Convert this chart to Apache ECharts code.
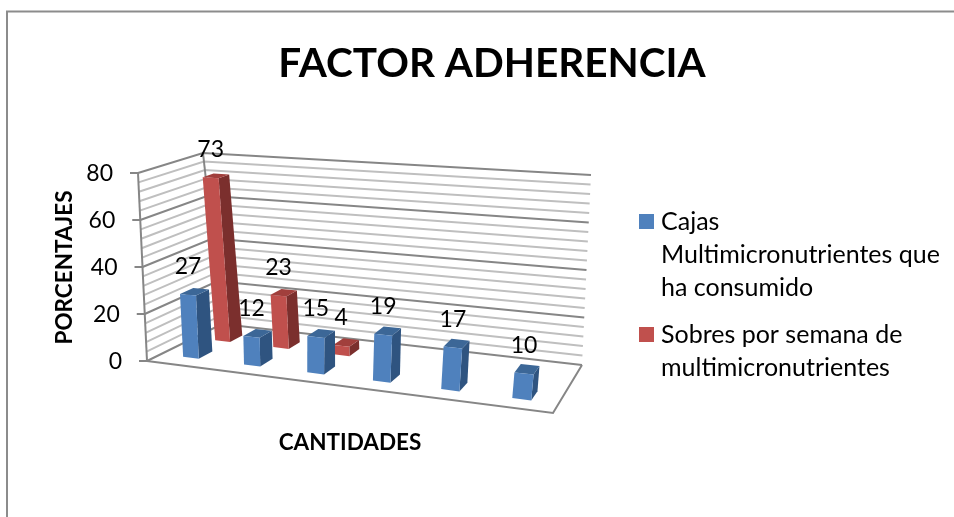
<!DOCTYPE html>
<html>
<head>
<meta charset="utf-8">
<style>
  html, body { margin: 0; padding: 0; background: #fff; }
  #chart { width: 954px; height: 517px; }
</style>
<script src="https://cdn.jsdelivr.net/npm/echarts@6/dist/echarts.min.js"></script>
</head>
<body>
<div id="chart"></div>
<script>
const categories = ['1', '2', '3', '4', '5', '6']
const cajas = [27, 12, 15, 19, 17, 10]
const sobres = [73, 23, 4, null, null, null]
const gridValues = [0, 4, 8, 12, 16, 20, 24, 28, 32, 36, 40, 44, 48, 52, 56, 60, 64, 68, 72, 76, 80]
const tickLabels = [0, 20, 40, 60, 80]

const FONT = 'Lato, "Open Sans", sans-serif'
const GRID = { left: 130, top: 174, width: 440, height: 187 }

// corners of the floor and of the plane at the axis max: front-left, front-right, back-right, back-left
const bottomH = quad([[147, 361], [553, 413], [582, 365], [222, 324]])
const topH = quad([[138, 173], [577, 201], [591, 175], [203, 153]])

function quad(p) {
  const [[x0, y0], [x1, y1], [x2, y2], [x3, y3]] = p
  const sx = x0 - x1 + x2 - x3
  const sy = y0 - y1 + y2 - y3
  const dx1 = x1 - x2, dx2 = x3 - x2, dy1 = y1 - y2, dy2 = y3 - y2
  const den = dx1 * dy2 - dx2 * dy1
  const g = (sx * dy2 - dx2 * sy) / den
  const h = (dx1 * sy - sx * dy1) / den
  return [x1 - x0 + g * x1, x3 - x0 + h * x3, x0, y1 - y0 + g * y1, y3 - y0 + h * y3, y0, g, h]
}

function apply(m, u, z) {
  const w = m[6] * u + m[7] * z + 1
  return [(m[0] * u + m[1] * z + m[2]) / w, (m[3] * u + m[4] * z + m[5]) / w]
}

// px, py are pixels of the flat hidden grid, z is depth (0 front, 1 back)
function project(px, py, z) {
  const u = (px - GRID.left) / GRID.width
  const t = (GRID.top + GRID.height - py) / GRID.height
  const a = apply(bottomH, u, z)
  const b = apply(topH, u, z)
  return [a[0] + (b[0] - a[0]) * t, a[1] + (b[1] - a[1]) * t]
}

function line(points, color, width) {
  return {
    type: 'polyline',
    shape: { points },
    style: { stroke: color, lineWidth: width, fill: null }
  }
}

function renderGridLine(params, api) {
  const v = api.value(1)
  const py = api.coord([0, v])[1]
  const x0 = GRID.left
  const x1 = GRID.left + GRID.width
  const major = tickLabels.indexOf(v) >= 0
  const color = major ? '#868686' : '#bfbfbf'
  const front = project(x0, py, 0)
  const children = [
    line([front, project(x0, py, 1), project(x1, py, 1)], color, 2)
  ]
  if (major) {
    children.push(line([[front[0] - 8, front[1]], front], '#868686', 2))
    children.push({
      type: 'text',
      style: {
        text: String(v),
        x: front[0] - 25,
        y: front[1] + 1,
        fill: '#000',
        font: '23px ' + FONT,
        align: 'right',
        verticalAlign: 'middle'
      }
    })
  }
  return { type: 'group', children }
}

function renderFrame(params, api) {
  const y0 = api.coord([0, 0])[1]
  const y1 = api.coord([0, 80])[1]
  const x0 = GRID.left
  const x1 = GRID.left + GRID.width
  return {
    type: 'group',
    children: [
      line([project(x0, y0, 0), project(x0, y1, 0)], '#868686', 2),
      line([project(x0, y0, 1), project(x0, y1, 1)], '#868686', 2),
      line([project(x0, y0, 0), project(x1, y0, 0), project(x1, y0, 1)], '#868686', 2)
    ]
  }
}

function barRenderer(zFront, zBack, colors) {
  return function (params, api) {
    const v = api.value(1)
    if (isNaN(v)) return null
    const base = api.coord([api.value(0), 0])
    const top = api.coord([api.value(0), v])
    const half = api.size([1, 0])[0] * 0.13
    const l = base[0] - half
    const r = base[0] + half
    const flb = project(l, base[1], zFront)
    const frb = project(r, base[1], zFront)
    const brb = project(r, base[1], zBack)
    const flt = project(l, top[1], zFront)
    const frt = project(r, top[1], zFront)
    const brt = project(r, top[1], zBack)
    const blt = project(l, top[1], zBack)
    return {
      type: 'group',
      children: [
        { type: 'polygon', shape: { points: [frb, brb, brt, frt] }, style: { fill: colors.side } },
        { type: 'polygon', shape: { points: [flt, frt, brt, blt] }, style: { fill: colors.top } },
        { type: 'polygon', shape: { points: [flb, frb, frt, flt] }, style: { fill: colors.front } },
        {
          type: 'text',
          style: {
            text: String(v),
            x: (flt[0] + frt[0]) / 2,
            y: (flt[1] + frt[1]) / 2 - 28,
            fill: '#000',
            font: '23px ' + FONT,
            align: 'center',
            verticalAlign: 'middle'
          }
        }
      ]
    }
  }
}

const blue = { front: '#4F81BD', side: '#2F5480', top: '#3C6797' }
const red = { front: '#C0504D', side: '#7B2F2D', top: '#A13F3C' }
const nameCajas = 'Cajas Multimicronutrientes que ha consumido'
const nameSobres = 'Sobres por semana de multimicronutrientes'

function pair(values) {
  return values.map((v, i) => [i, v])
}

const chart = echarts.init(document.getElementById('chart'))
chart.setOption({
  animation: false,
  backgroundColor: '#fff',
  title: {
    text: 'FACTOR ADHERENCIA',
    left: 487,
    top: 38,
    textAlign: 'center',
    textStyle: { fontFamily: FONT, fontWeight: 'bold', fontSize: 40.5, color: '#000' }
  },
  graphic: [{
    type: 'rect',
    shape: { x: 7, y: 11.5, width: 1000, height: 600 },
    style: { fill: null, stroke: '#8c8c8c', lineWidth: 2 },
    silent: true
  }],
  legend: {
    orient: 'vertical',
    left: 628,
    top: 200,
    itemWidth: 1,
    itemHeight: 1,
    itemGap: 14,
    data: [nameCajas, nameSobres],
    itemStyle: { opacity: 0 },
    formatter: name => name === nameCajas
      ? '{a|}{g|}Cajas\n{s|}{g|}Multimicronutrientes que\n{s|}{g|}ha consumido'
      : '{b|}{g|}Sobres por semana de\n{s|}{g|}multimicronutrientes',
    textStyle: {
      fontFamily: FONT,
      fontSize: 25,
      color: '#000',
      lineHeight: 33,
      rich: {
        a: { width: 15, height: 15, backgroundColor: '#4F81BD' },
        b: { width: 15, height: 15, backgroundColor: '#C0504D' },
        s: { width: 15, height: 15 },
        g: { width: 7, height: 15 }
      }
    }
  },
  grid: Object.assign({ containLabel: false }, GRID),
  xAxis: {
    type: 'category',
    data: categories,
    name: 'CANTIDADES',
    nameLocation: 'middle',
    nameGap: 70,
    nameTextStyle: { fontFamily: FONT, fontWeight: 'bold', fontSize: 22.5, color: '#000' },
    axisLine: { show: false },
    axisTick: { show: false },
    axisLabel: { show: false }
  },
  yAxis: {
    type: 'value',
    min: 0,
    max: 80,
    interval: 20,
    name: 'PORCENTAJES',
    nameLocation: 'middle',
    nameRotate: 90,
    nameGap: 54,
    nameTextStyle: { fontFamily: FONT, fontWeight: 'bold', fontSize: 22.5, color: '#000' },
    axisLine: { show: false },
    axisTick: { show: false },
    axisLabel: { show: false },
    splitLine: { show: false }
  },
  series: [
    {
      type: 'custom',
      silent: true,
      z: 1,
      clip: false,
      renderItem: renderGridLine,
      data: gridValues.map(v => [0, v])
    },
    {
      type: 'custom',
      silent: true,
      z: 1,
      clip: false,
      renderItem: renderFrame,
      data: [[0, 0]]
    },
    {
      name: nameSobres,
      type: 'custom',
      z: 3,
      clip: false,
      itemStyle: { color: red.front },
      renderItem: barRenderer(0.6, 0.78, red),
      data: pair(sobres)
    },
    {
      name: nameCajas,
      type: 'custom',
      z: 4,
      clip: false,
      itemStyle: { color: blue.front },
      renderItem: barRenderer(0.17, 0.35, blue),
      data: pair(cajas)
    }
  ]
})
</script>
</body>
</html>
